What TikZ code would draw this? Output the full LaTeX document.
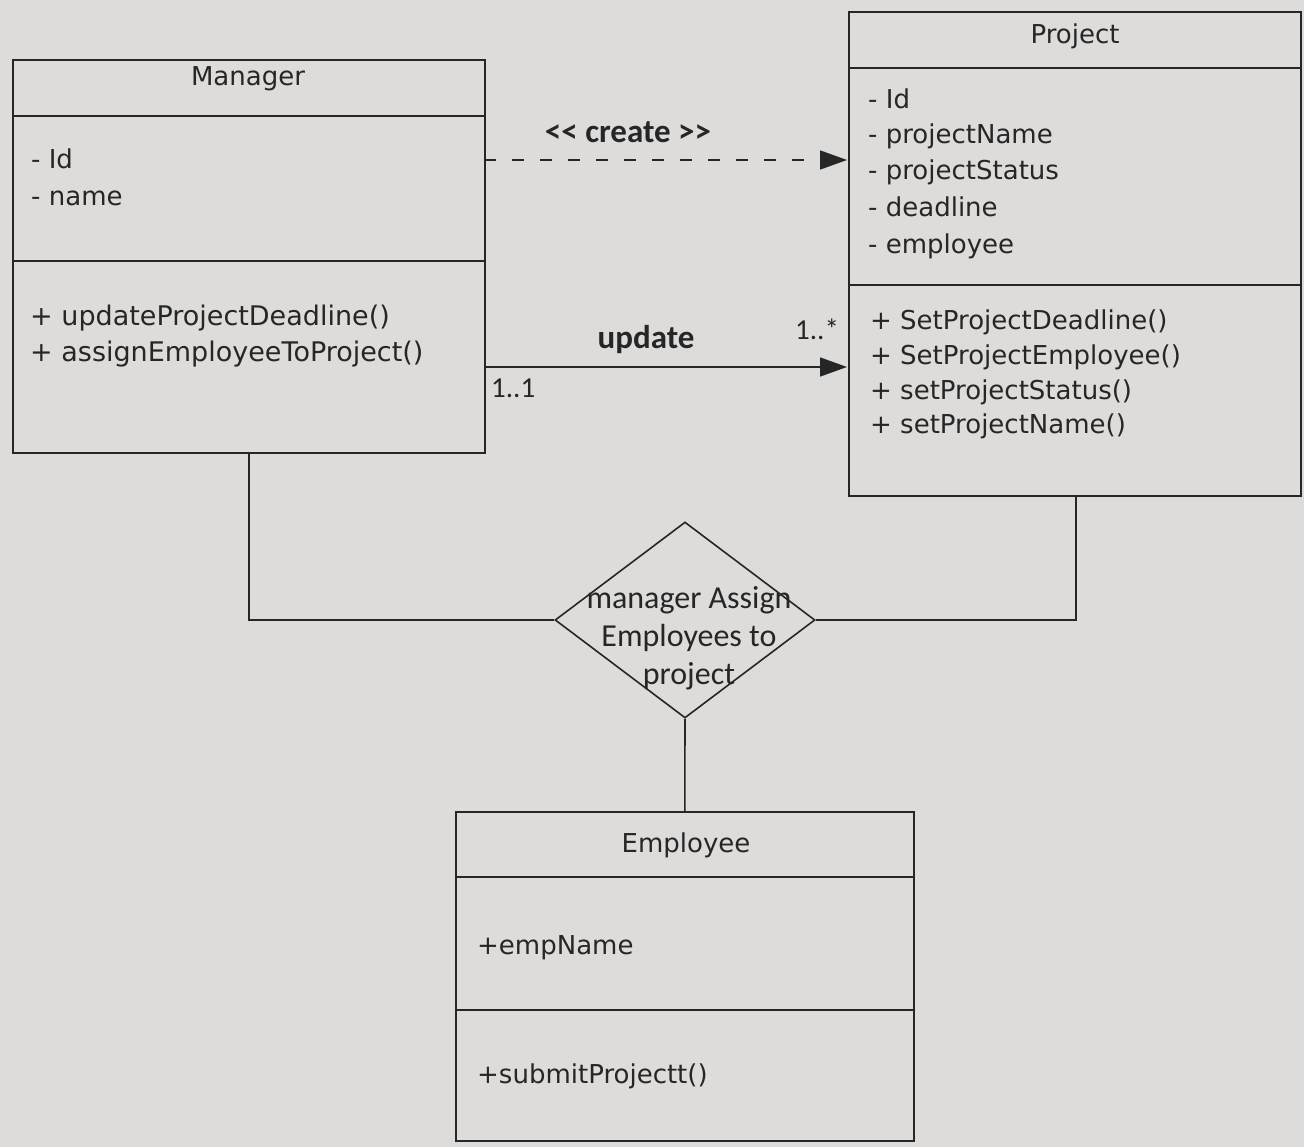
\documentclass[tikz,border=0pt]{standalone}
\usepackage{fontspec}
\setmainfont{DejaVu Sans}
\newfontfamily\calfont{Carlito}
\usetikzlibrary{arrows.meta,shapes.geometric}
\definecolor{paper}{RGB}{222,220,218}
\definecolor{ink}{RGB}{38,38,38}
\tikzset{
  umlbox/.style={draw=ink, line width=1.6pt, rectangle, inner sep=0pt, anchor=north west},
  divider/.style={draw=ink, line width=1.6pt},
  conn/.style={draw=ink, line width=1.6pt},
  member/.style={anchor=base west, inner sep=0pt, text=ink, font=\fontsize{26}{34}\selectfont},
  bigmember/.style={member, font=\fontsize{27}{34}\selectfont},
  title/.style={anchor=base, inner sep=0pt, text=ink, font=\fontsize{26}{34}\selectfont},
  lbl/.style={anchor=base, inner sep=0pt, text=ink, font=\calfont\bfseries\fontsize{33}{38}\selectfont},
  mult/.style={anchor=base west, inner sep=0pt, text=ink, font=\calfont\fontsize{29}{34}\selectfont},
  tip/.style={-{Triangle[length=27pt,width=19pt]}},
}
\begin{document}
\begin{tikzpicture}[x=1pt,y=-1pt]
\useasboundingbox (0,0) rectangle (1304,1147);
\fill[paper] (0,0) rectangle (1304,1147);

% Manager
\node[umlbox, minimum width=472pt, minimum height=393pt] (mgr) at (12,59) {};
\draw[divider] (12,116) -- (484,116);
\draw[divider] (12,261) -- (484,261);
\node[title] (mgrT) at (248,86) {Manager};
\node[member] (mgrA1) at (31,169) {- Id};
\node[member] (mgrA2) at (31,206) {- name};
\node[bigmember] (mgrM1) at (30,326) {+ updateProjectDeadline()};
\node[bigmember] (mgrM2) at (30,362) {+ assignEmployeeToProject()};

% Project
\node[umlbox, minimum width=452pt, minimum height=484pt] (prj) at (848,11) {};
\draw[divider] (848,68) -- (1300,68);
\draw[divider] (848,285) -- (1300,285);
\node[title] (prjT) at (1075,44) {Project};
\node[member] (prjA1) at (868,109) {- Id};
\node[member] (prjA2) at (868,144) {- projectName};
\node[member] (prjA3) at (868,180) {- projectStatus};
\node[member] (prjA4) at (868,217) {- deadline};
\node[member] (prjA5) at (868,254) {- employee};
\node[member] (prjM1) at (870,330) {+ SetProjectDeadline()};
\node[member] (prjM2) at (870,365) {+ SetProjectEmployee()};
\node[member] (prjM3) at (870,400) {+ setProjectStatus()};
\node[member] (prjM4) at (870,433) {+ setProjectName()};

% Employee
\node[umlbox, minimum width=458pt, minimum height=329pt] (emp) at (455,811) {};
\draw[divider] (455,877) -- (913,877);
\draw[divider] (455,1010) -- (913,1010);
\node[title] (empT) at (686,852) {Employee};
\node[member] (empA1) at (477,954) {+empName};
\node[member] (empM1) at (477,1083) {+submitProjectt()};

% Association diamond
\node[draw=ink, line width=1.6pt, diamond, minimum width=260pt, minimum height=196pt, inner sep=0pt] (assoc) at (685,620) {};
\node[anchor=center, align=center, inner sep=0pt, text=ink, font=\calfont\fontsize{32}{38}\selectfont] (assocT) at (689,638) {manager Assign\\Employees to\\project};

% Connectors
\coordinate (mgrCreate) at (484,160);
\coordinate (prjCreate) at (847,160);
\draw[conn, tip, dash pattern=on 12pt off 16pt] (mgrCreate) -- (prjCreate);
\node[lbl] (createL) at (628,143) {<< create >>};

\coordinate (mgrUpd) at (484,367);
\coordinate (prjUpd) at (847,367);
\draw[conn, tip] (mgrUpd) -- (prjUpd);
\node[lbl] (updL) at (646,349) {update};
\node[mult] (m11) at (491,398) {1..1};
\node[mult] (m1s) at (795,340) {1..*};

\draw[conn] (mgr.south) |- (assoc.west);
\draw[conn] (1076,495) |- (assoc.east);
\draw[conn] (assoc.south) -- (emp.north);
\end{tikzpicture}
\end{document}
